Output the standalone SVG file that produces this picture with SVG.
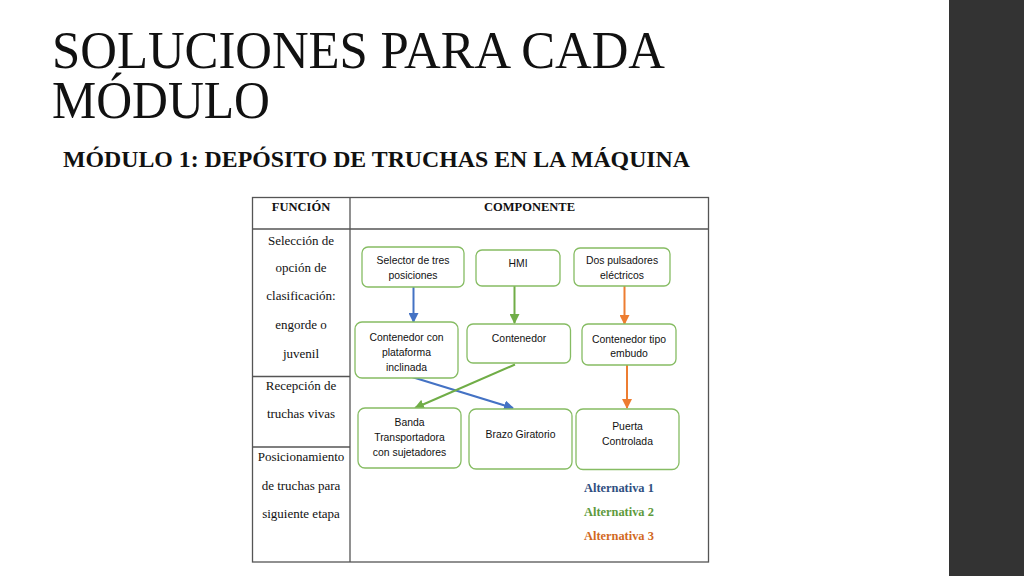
<svg xmlns="http://www.w3.org/2000/svg" width="1024" height="576" viewBox="0 0 1024 576">
<defs>
<marker id="ab" viewBox="0 0 10 10" refX="9" refY="5" markerWidth="5" markerHeight="5" orient="auto"><path d="M0,0 L10,5 L0,10 z" fill="#4472C4"/></marker>
<marker id="ag" viewBox="0 0 10 10" refX="9" refY="5" markerWidth="5" markerHeight="5" orient="auto"><path d="M0,0 L10,5 L0,10 z" fill="#70AD47"/></marker>
<marker id="ao" viewBox="0 0 10 10" refX="9" refY="5" markerWidth="5" markerHeight="5" orient="auto"><path d="M0,0 L10,5 L0,10 z" fill="#ED7D31"/></marker>
</defs>
<style>
.title{font-family:"Liberation Serif",serif;font-size:53px;fill:#111}
.sub{font-family:"Liberation Serif",serif;font-size:24px;font-weight:bold;fill:#111}
.tbl{fill:none;stroke:#555;stroke-width:1.3}
.hd{font-family:"Liberation Serif",serif;font-size:12.5px;font-weight:bold;fill:#111;text-anchor:middle}
.fn{font-family:"Liberation Serif",serif;font-size:13px;fill:#111;text-anchor:middle}
.box{fill:#fff;stroke:#86BC63;stroke-width:1.3}
.bt{font-family:"Liberation Sans",sans-serif;font-size:10.4px;fill:#111;text-anchor:middle}
.lg{font-family:"Liberation Serif",serif;font-size:12.4px;font-weight:bold}
.cb{stroke:#4472C4;stroke-width:2;fill:none}
.cg{stroke:#70AD47;stroke-width:2;fill:none}
.co{stroke:#ED7D31;stroke-width:2;fill:none}
</style>
<rect width="1024" height="576" fill="#fff"/>
<rect x="949" y="0" width="75" height="576" fill="#333"/>
<text class="title" x="52" y="68" textLength="613" lengthAdjust="spacingAndGlyphs">SOLUCIONES PARA CADA</text>
<text class="title" x="52" y="118" textLength="218" lengthAdjust="spacingAndGlyphs">MÓDULO</text>
<text class="sub" x="63" y="167" textLength="627" lengthAdjust="spacingAndGlyphs">MÓDULO 1: DEPÓSITO DE TRUCHAS EN LA MÁQUINA</text>
<g id="table">
<rect class="tbl" x="252.5" y="197.5" width="456" height="364.5"/>
<line class="tbl" x1="350" y1="197.5" x2="350" y2="562"/>
<line class="tbl" x1="252.5" y1="229" x2="708.5" y2="229"/>
<line class="tbl" x1="252.5" y1="376.5" x2="350" y2="376.5"/>
<line class="tbl" x1="252.5" y1="447" x2="350" y2="447"/>
<text class="hd" x="301" y="210.5">FUNCIÓN</text>
<text class="hd" x="529.5" y="210.5">COMPONENTE</text>
<text class="fn" x="301" y="245">Selección de</text>
<text class="fn" x="301" y="272">opción de</text>
<text class="fn" x="301" y="300">clasificación:</text>
<text class="fn" x="301" y="328.5">engorde o</text>
<text class="fn" x="301" y="358">juvenil</text>
<text class="fn" x="301" y="390">Recepción de</text>
<text class="fn" x="301" y="418">truchas vivas</text>
<text class="fn" x="301" y="461">Posicionamiento</text>
<text class="fn" x="301" y="490">de truchas para</text>
<text class="fn" x="301" y="518">siguiente etapa</text>
</g>
<g id="connectors">
<line class="cb" x1="413.5" y1="287" x2="413.5" y2="322" marker-end="url(#ab)"/>
<line class="cg" x1="514.5" y1="286" x2="514.5" y2="323" marker-end="url(#ag)"/>
<line class="co" x1="624.5" y1="286" x2="624.5" y2="324" marker-end="url(#ao)"/>
<line class="co" x1="627" y1="365" x2="627" y2="408" marker-end="url(#ao)"/>
<line class="cb" x1="412" y1="377" x2="513" y2="408" marker-end="url(#ab)"/>
<line class="cg" x1="515" y1="364.5" x2="415" y2="408" marker-end="url(#ag)"/>
</g>
<g id="n1"><rect class="box" x="362" y="247" width="102" height="40" rx="6"/><text class="bt" x="413" y="263.5">Selector de tres</text><text class="bt" x="413" y="278.5">posiciones</text></g>
<g id="n2"><rect class="box" x="476" y="250" width="84" height="36" rx="6"/><text class="bt" x="518" y="267">HMI</text></g>
<g id="n3"><rect class="box" x="574" y="248" width="96" height="38" rx="6"/><text class="bt" x="622" y="263.5">Dos pulsadores</text><text class="bt" x="622" y="279">eléctricos</text></g>
<g id="n4"><rect class="box" x="355" y="322" width="103" height="56" rx="7"/><text class="bt" x="406.5" y="340.5">Contenedor con</text><text class="bt" x="406.5" y="355.5">plataforma</text><text class="bt" x="406.5" y="370.5">inclinada</text></g>
<g id="n5"><rect class="box" x="467" y="324" width="103.5" height="39" rx="6"/><text class="bt" x="519" y="342">Contenedor</text></g>
<g id="n6"><rect class="box" x="582" y="324" width="94" height="41" rx="6"/><text class="bt" x="629" y="342.5">Contenedor tipo</text><text class="bt" x="629" y="357">embudo</text></g>
<g id="n7"><rect class="box" x="358" y="408" width="103" height="60" rx="7"/><text class="bt" x="409.5" y="425.5">Banda</text><text class="bt" x="409.5" y="440.5">Transportadora</text><text class="bt" x="409.5" y="456">con sujetadores</text></g>
<g id="n8"><rect class="box" x="469" y="409" width="103" height="60" rx="7"/><text class="bt" x="520.5" y="437.5">Brazo Giratorio</text></g>
<g id="n9"><rect class="box" x="576" y="409" width="103" height="60.5" rx="7"/><text class="bt" x="627.5" y="430">Puerta</text><text class="bt" x="627.5" y="445">Controlada</text></g>
<g id="legend">
<text class="lg" x="584" y="492" fill="#2F4F7F">Alternativa 1</text>
<text class="lg" x="584" y="515.5" fill="#5E9A3C">Alternativa 2</text>
<text class="lg" x="584" y="539.5" fill="#D2691E">Alternativa 3</text>
</g>
</svg>
